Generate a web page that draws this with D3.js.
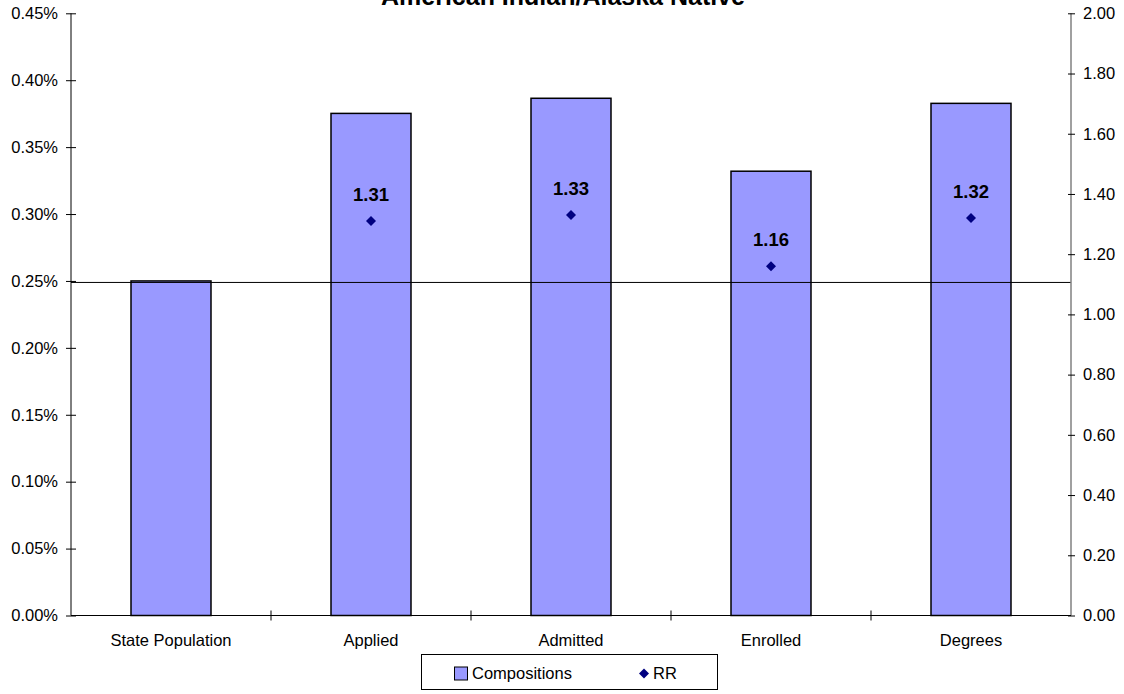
<!DOCTYPE html>
<html>
<head>
<meta charset="utf-8">
<script src="https://cdn.jsdelivr.net/npm/d3@7"></script>
<style>
  body { margin: 0; background: #fff; }
  svg { font-family: "Liberation Sans", Arial, sans-serif; }
</style>
</head>
<body>
<svg id="chart" width="1124" height="694"></svg>
<script>
// chart data
var categories = ['State Population', 'Applied', 'Admitted', 'Enrolled', 'Degrees'];
var compositions = [0.0025, 0.003752, 0.003865, 0.00332, 0.003827];
var rr = [null, 1.31, 1.33, 1.16, 1.32];
var leftTicks = [0, 0.0005, 0.001, 0.0015, 0.002, 0.0025, 0.003, 0.0035, 0.004, 0.0045];
var rightTicks = [0, 0.2, 0.4, 0.6, 0.8, 1.0, 1.2, 1.4, 1.6, 1.8, 2.0];
var refLine = 0.0025;

var svg = d3.select('#chart');
var plotLeft = 71, plotRight = 1071, plotTop = 13.3, plotBottom = 615.5;

var x = d3.scaleBand().domain(categories).range([plotLeft, plotRight]);
var yL = d3.scaleLinear().domain([0, 0.0045]).range([plotBottom, plotTop]);
var yR = d3.scaleLinear().domain([0, 2]).range([plotBottom, plotTop]);

// title (clipped at top like the original)
svg.append('text')
    .attr('x', 563).attr('y', 5)
    .attr('text-anchor', 'middle')
    .attr('font-size', '25px').attr('font-weight', 'bold')
    .text('American Indian/Alaska Native');

// bars
svg.selectAll('rect.bar')
    .data(compositions)
    .enter()
    .append('rect')
    .attr('class', 'bar')
    .attr('x', function (d, i) { return x(categories[i]) + x.bandwidth() * 0.3; })
    .attr('width', x.bandwidth() * 0.4)
    .attr('y', function (d) { return yL(d); })
    .attr('height', function (d) { return plotBottom - yL(d); })
    .attr('fill', '#9999FF')
    .attr('stroke', '#000')
    .attr('stroke-width', 1.5);

// reference line
svg.append('line')
    .attr('x1', plotLeft).attr('x2', plotRight)
    .attr('y1', yL(refLine) + 1.5).attr('y2', yL(refLine) + 1.5)
    .attr('stroke', '#000').attr('stroke-width', 1);

// left axis
var gL = svg.append('g').attr('transform', 'translate(' + plotLeft + ',0)')
    .call(d3.axisLeft(yL).tickValues(leftTicks).tickSize(5)
        .tickFormat(function (d) { return (d * 100).toFixed(2) + '%'; }));
gL.selectAll('.tick line').attr('x2', 5).attr('x1', -5);
gL.selectAll('text').attr('x', -13).attr('font-size', '16.5px').attr('font-family', null).attr('fill', '#000');
gL.select('.domain').attr('d', 'M0,' + plotTop + 'V' + plotBottom);

// right axis
var gR = svg.append('g').attr('transform', 'translate(' + plotRight + ',0)')
    .call(d3.axisRight(yR).tickValues(rightTicks)
        .tickFormat(d3.format('.2f')));
gR.selectAll('.tick line').attr('x1', -3).attr('x2', 4).attr('stroke', '#000');
gR.selectAll('text').attr('x', 12).attr('font-size', '16.5px').attr('font-family', null).attr('fill', '#000');
gR.select('.domain').attr('d', 'M0,' + plotTop + 'V' + plotBottom).attr('stroke', '#808080').attr('stroke-width', 1.5);

// x axis
svg.append('line')
    .attr('x1', plotLeft).attr('x2', plotRight)
    .attr('y1', plotBottom).attr('y2', plotBottom)
    .attr('stroke', '#000');
var xTicks = categories.slice(1).map(function (c) { return x(c); });
svg.selectAll('line.xtick')
    .data(xTicks)
    .enter()
    .append('line')
    .attr('class', 'xtick')
    .attr('x1', function (d) { return d; }).attr('x2', function (d) { return d; })
    .attr('y1', plotBottom - 5).attr('y2', plotBottom + 5)
    .attr('stroke', '#000');
svg.selectAll('text.xlab')
    .data(categories)
    .enter()
    .append('text')
    .attr('class', 'xlab')
    .attr('x', function (d) { return x(d) + x.bandwidth() / 2; })
    .attr('y', 646)
    .attr('text-anchor', 'middle')
    .attr('font-size', '16.5px')
    .text(function (d) { return d; });

// RR points and labels
var pts = rr.map(function (v, i) { return { c: categories[i], v: v }; })
    .filter(function (d) { return d.v !== null; });
var diamond = d3.symbol().type(d3.symbolDiamond2).size(64);
svg.selectAll('path.rr')
    .data(pts)
    .enter()
    .append('path')
    .attr('class', 'rr')
    .attr('d', diamond)
    .attr('transform', function (d) {
        return 'translate(' + (x(d.c) + x.bandwidth() / 2) + ',' + yR(d.v) + ')';
    })
    .attr('fill', '#000080');
svg.selectAll('text.rrlab')
    .data(pts)
    .enter()
    .append('text')
    .attr('class', 'rrlab')
    .attr('x', function (d) { return x(d.c) + x.bandwidth() / 2; })
    .attr('y', function (d) { return yR(d.v) - 20; })
    .attr('text-anchor', 'middle')
    .attr('font-size', '18.5px').attr('font-weight', 'bold')
    .text(function (d) { return d.v.toFixed(2); });

// legend
var lg = svg.append('g');
lg.append('rect')
    .attr('x', 421.5).attr('y', 654.5).attr('width', 296).attr('height', 35)
    .attr('fill', '#fff').attr('stroke', '#000');
lg.append('rect')
    .attr('x', 454.5).attr('y', 667).attr('width', 13).attr('height', 13)
    .attr('fill', '#9999FF').attr('stroke', '#000');
lg.append('text')
    .attr('x', 472).attr('y', 679).attr('font-size', '16.5px')
    .text('Compositions');
lg.append('path')
    .attr('d', diamond)
    .attr('transform', 'translate(644,673.5)')
    .attr('fill', '#000080');
lg.append('text')
    .attr('x', 653).attr('y', 679).attr('font-size', '16.5px')
    .text('RR');
</script>
</body>
</html>
